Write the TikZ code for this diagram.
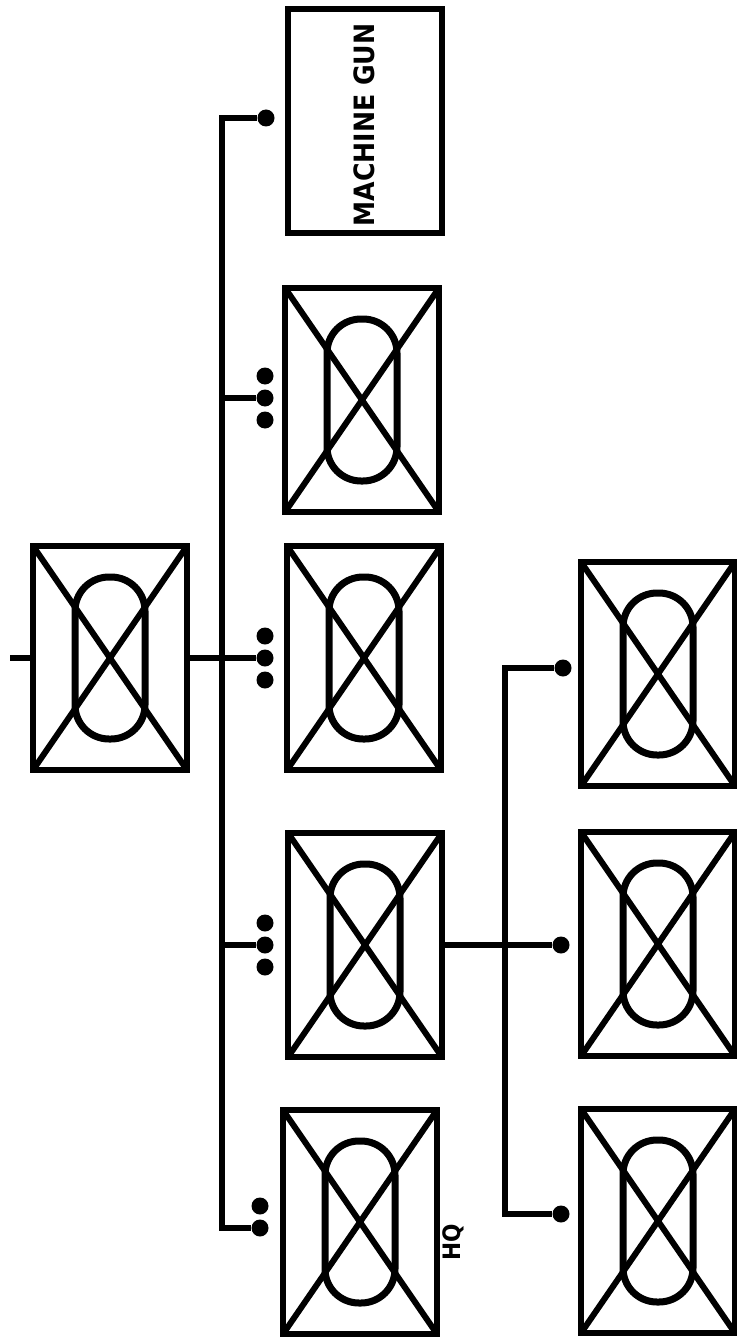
\documentclass[tikz,border=0pt]{standalone}
\usepackage{fontspec}
\newfontfamily\stencil{DejaVu Sans Condensed}[BoldFont={DejaVu Sans Condensed Bold}]
\usepackage{tikz}
\usetikzlibrary{positioning,calc}

\begin{document}
\begin{tikzpicture}[x=1pt, y=-1pt,
  box/.style={rectangle, draw, line width=6.5pt, minimum width=154pt, minimum height=224pt, inner sep=0pt},
  unit/.style={box,
    path picture={
      \draw[line width=6pt] (path picture bounding box.north west) -- (path picture bounding box.south east)
        (path picture bounding box.south west) -- (path picture bounding box.north east);
      \draw[line width=7pt, rounded corners=34pt] ($(path picture bounding box.center)+(-35pt,-81pt)$) rectangle ++(70pt,162pt);
    }},
  dot/.style={circle, fill, inner sep=0pt, minimum size=17pt},
  link/.style={line width=5.5pt},
  lbl/.style={font=\stencil\bfseries\fontsize{28}{28}\selectfont, rotate=90, inner sep=0pt}
]
\useasboundingbox (0,0) rectangle (736,1340);

\node[unit] (co) at (110,658) {};
\coordinate (in) at (10,658);
\draw[link] (in) -- (co.west);

\node[box] (mg) at (365,121) {};
\node[lbl] (mglbl) at (364,125) {MACHINE GUN};
\node[unit] (p1) at (362,400) {};
\node[unit] (p2) at (364,658) {};
\node[unit] (p3) at (365,945) {};
\node[unit] (hq) at (360,1222) {};
\node[lbl, font=\stencil\bfseries\fontsize{24}{24}\selectfont] (hqlbl) at (453,1242) {HQ};

\node[unit] (r1) at (658,674) {};
\node[unit] (r2) at (658,944) {};
\node[unit] (r3) at (658,1221) {};

\node[dot] (d0) at (266,118) {};
\node[dot] (d1) at (265,398) {};
\node[dot] (d1a) at (265,376) {};
\node[dot] (d1b) at (265,420) {};
\node[dot] (d2) at (265,658) {};
\node[dot] (d2a) at (265,636) {};
\node[dot] (d2b) at (265,680) {};
\node[dot] (d3) at (265,945) {};
\node[dot] (d3a) at (265,923) {};
\node[dot] (d3b) at (265,967) {};
\node[dot] (d4a) at (260,1206) {};
\node[dot] (d4b) at (260,1228) {};

\node[dot] (e1) at (563,668) {};
\node[dot] (e2) at (561,945) {};
\node[dot] (e3) at (561,1214) {};

\coordinate (b1t) at (222,118);
\coordinate (b1b) at (222,1228);
\draw[link] (d0) -- (b1t) -- (b1b) -- (d4b);
\draw[link] (b1t |- d1) -- (d1);
\draw[link] (co.east) -- (d2);
\draw[link] (b1t |- d3) -- (d3);

\coordinate (b2t) at (505,668);
\coordinate (b2b) at (505,1214);
\draw[link] (e1) -- (b2t) -- (b2b) -- (e3);
\draw[link] (p3.east) -- (e2);

\end{tikzpicture}
\end{document}
